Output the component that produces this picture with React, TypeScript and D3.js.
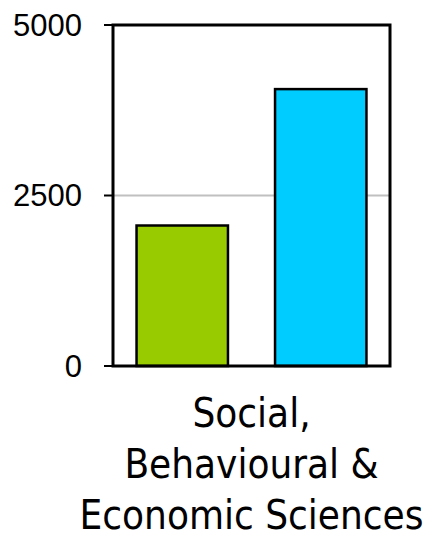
import React from "react";
import * as d3 from "d3";

const categories = ["Social, Behavioural & Economic Sciences"];
const categoryLines = ["Social,", "Behavioural &", "Economic Sciences"];
const seriesNames = ["Series A", "Series B"];
const seriesColors = ["#99cc00", "#00ccff"];
const seriesValues = [[2060], [4060]];
const yTicks = [0, 2500, 5000];

export default function App() {
  const W = 434, H = 534;
  const m = { left: 113, right: 44, top: 25, bottom: 168 };
  const x0 = d3.scaleBand<string>().domain(categories).range([m.left, W - m.right]).padding(0);
  const x1 = d3
    .scaleBand<string>()
    .domain(seriesNames)
    .range([0, x0.bandwidth()])
    .paddingInner(0.34)
    .paddingOuter(0.17);
  const y = d3.scaleLinear().domain([0, 5000]).range([H - m.bottom, m.top]);
  const cx = (x0(categories[0]) ?? 0) + x0.bandwidth() / 2;

  return (
    <svg width={W} height={H} style={{ position: "absolute", left: 0, top: 0, background: "#fff" }}>
      {yTicks
        .filter((t) => t > 0 && t < 5000)
        .map((t) => (
          <line key={"g" + t} x1={m.left} x2={W - m.right} y1={y(t)} y2={y(t)} stroke="#c0c0c0" strokeWidth={2} />
        ))}
      {categories.map((c, ci) =>
        seriesNames.map((s, si) => {
          const v = seriesValues[si][ci];
          const bx = (x0(c) ?? 0) + (x1(s) ?? 0);
          return (
            <rect
              key={c + s}
              x={bx}
              y={y(v)}
              width={x1.bandwidth()}
              height={y(0) - y(v)}
              fill={seriesColors[si]}
              stroke="#000"
              strokeWidth={2.5}
            />
          );
        })
      )}
      <rect x={m.left} y={m.top} width={W - m.left - m.right} height={H - m.top - m.bottom} fill="none" stroke="#000" strokeWidth={3} />
      {yTicks.map((t) => (
        <g key={"t" + t}>
          <line x1={m.left - 9} x2={m.left} y1={y(t)} y2={y(t)} stroke="#000" strokeWidth={2} />
          <text
            x={m.left - 31}
            y={y(t)}
            dy="0.35em"
            textAnchor="end"
            fontFamily="'Liberation Sans', Arial, sans-serif"
            fontSize={31}
            fill="#000"
          >
            {t}
          </text>
        </g>
      ))}
      <text
        x={cx}
        textAnchor="middle"
        fontFamily="'DejaVu Sans Condensed', 'DejaVu Sans', sans-serif"
        style={{ fontStretch: "condensed" }}
        fontSize={40}
        fill="#000"
      >
        {categoryLines.map((l, i) => (
          <tspan key={i} x={cx} y={427 + i * 51}>
            {l}
          </tspan>
        ))}
      </text>
    </svg>
  );
}
